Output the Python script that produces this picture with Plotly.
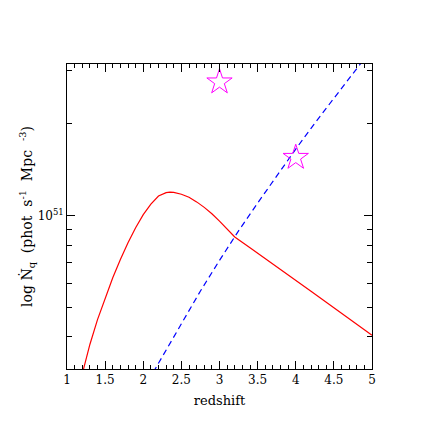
import plotly.graph_objects as go

# curva roja (emisividad de quasares) y linea azul a trazos
z_rojo = [1.1, 1.2, 1.3, 1.4, 1.5, 1.6, 1.7, 1.8, 1.9, 2.0,
          2.1, 2.2, 2.3, 2.35, 2.4, 2.5, 2.6, 2.7, 2.8, 2.9,
          3.0, 3.1, 3.2, 3.4, 3.6, 3.8, 4.0, 4.2, 4.4, 4.6, 4.8, 5.0]
n_rojo = [2.42e50, 3.06e50, 3.78e50, 4.56e50, 5.38e50, 6.25e50, 7.18e50, 8.15e50, 9.12e50, 1.007e51,
          1.091e51, 1.159e51, 1.189e51, 1.194e51, 1.191e51, 1.175e51, 1.148e51, 1.109e51, 1.064e51, 1.014e51,
          9.59e50, 9.04e50, 8.51e50, 7.85e50, 7.24e50, 6.67e50, 6.14e50, 5.65e50, 5.20e50, 4.79e50, 4.41e50, 4.05e50]

z_azul = [2.0, 2.25, 2.5, 2.75, 3.0, 3.25, 3.5, 3.75, 4.0, 4.25, 4.5, 4.75, 5.0]
n_azul = [2.69e50, 3.45e50, 4.42e50, 5.66e50, 7.13e50, 8.91e50, 1.099e51, 1.352e51,
          1.652e51, 2.009e51, 2.432e51, 2.931e51, 3.524e51]

# las dos estrellas (datos observados)
z_obs = [3.0, 4.0]
n_obs = [2.74e51, 1.55e51]

y_ticks = [1e51]
y_ticktext = ['10<sup>51</sup>']
y_minor = [4e50, 5e50, 6e50, 7e50, 8e50, 9e50, 2e51, 3e51]

fuente = 'DejaVu Serif'

fig = go.Figure()

fig.add_trace(go.Scatter(x=z_rojo, y=n_rojo, mode='lines',
                         line=dict(color='red', width=1.2), showlegend=False))
fig.add_trace(go.Scatter(x=z_azul, y=n_azul, mode='lines',
                         line=dict(color='blue', width=1.2, dash='6px,4px'), showlegend=False))
fig.add_trace(go.Scatter(x=z_obs, y=n_obs, mode='markers',
                         marker=dict(symbol='star-open', size=19, color='magenta',
                                     line=dict(color='magenta', width=1)),
                         showlegend=False))

# el navegador le pone 8px de margen al body, por eso los margenes van corridos
fig.update_layout(
    width=436, height=436,
    margin=dict(l=59, r=72, t=56, b=75),
    paper_bgcolor='white', plot_bgcolor='white',
    font=dict(family=fuente, size=12, color='black'),
    xaxis=dict(
        range=[1, 5], dtick=0.5, tick0=1,
        ticks='inside', ticklen=8, tickwidth=1, tickcolor='black',
        showline=True, linecolor='black', linewidth=1, mirror='ticks',
        showgrid=False, zeroline=False,
        minor=dict(dtick=0.1, tick0=1, ticks='inside', ticklen=4, tickcolor='black', showgrid=False),
        title=dict(text='redshift', font=dict(family=fuente, size=13), standoff=9),
    ),
    yaxis=dict(
        type='log', range=[50.497, 51.497],
        tickmode='array', tickvals=y_ticks, ticktext=y_ticktext,
        ticks='inside', ticklen=8, tickwidth=1, tickcolor='black',
        showline=True, linecolor='black', linewidth=1, mirror='ticks',
        showgrid=False, zeroline=False,
        minor=dict(tickmode='array', tickvals=y_minor, ticks='inside', ticklen=5,
                   tickcolor='black', showgrid=False),
        title=dict(text='log Ṅ<sub>q</sub>  (phot  s<sup>-1</sup>  Mpc  <sup>-3</sup>)',
                   font=dict(family=fuente, size=14), standoff=1),
    ),
)

fig.write_html('out.html')
